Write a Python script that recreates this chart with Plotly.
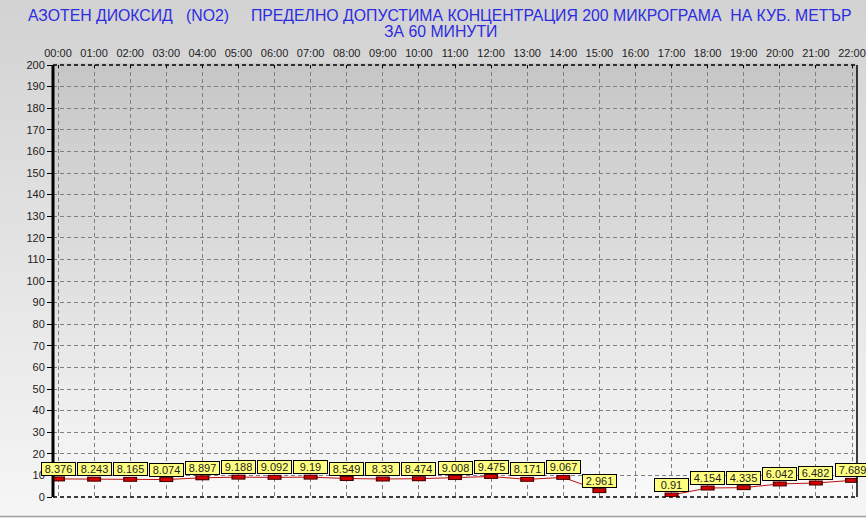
import plotly.graph_objects as go

hours = list(range(23))
hour_labels = [f"{h:02d}:00" for h in hours]
values = [8.376, 8.243, 8.165, 8.074, 8.897, 9.188, 9.092, 9.19, 8.549, 8.33,
          8.474, 9.008, 9.475, 8.171, 9.067, 2.961, None, 0.91, 4.154, 4.335,
          6.042, 6.482, 7.689]
label_texts = ["8.376", "8.243", "8.165", "8.074", "8.897", "9.188", "9.092", "9.19",
               "8.549", "8.33", "8.474", "9.008", "9.475", "8.171", "9.067", "2.961",
               None, "0.91", "4.154", "4.335", "6.042", "6.482", "7.689"]
y_ticks = list(range(0, 201, 10))

NB = "\u00a0"
title_line1 = ("АЗОТЕН ДИОКСИД" + NB * 3 + "(NO2)" + NB * 5 +
               "ПРЕДЕЛНО ДОПУСТИМА КОНЦЕНТРАЦИЯ 200 МИКРОГРАМА" + NB * 2 + "НА КУБ. МЕТЪР")
title_line2 = "ЗА 60 МИНУТИ"

FONT = "Arial, 'Liberation Sans', sans-serif"

W, H = 866, 518
ML, MR, MT, MB = 53, 9, 65, 21
PW, PH = W - ML - MR, H - MT - MB


def px_to_paper_x(px):
    return (px - ML) / PW


def px_to_paper_y(py):
    return (H - MB - py) / PH


fig = go.Figure()

# connecting line
fig.add_trace(go.Scatter(x=hours, y=values, mode="lines",
                         line=dict(color="#c01010", width=1),
                         connectgaps=False, hoverinfo="skip", showlegend=False))
# marker outline
fig.add_trace(go.Scatter(x=hours, y=values, mode="markers",
                         marker=dict(symbol="line-ew", size=10,
                                     line=dict(color="#4a0000", width=5)),
                         hoverinfo="skip", showlegend=False))
# marker fill
fig.add_trace(go.Scatter(x=hours, y=values, mode="markers",
                         marker=dict(symbol="line-ew", size=8,
                                     line=dict(color="#d40000", width=3)),
                         hoverinfo="skip", showlegend=False))

annotations = []
for h, v, t in zip(hours, values, label_texts):
    if v is None:
        continue
    annotations.append(dict(
        x=h, y=v, xref="x", yref="y", text=t, showarrow=False,
        xanchor="center", yanchor="bottom", yshift=3,
        font=dict(family=FONT, size=11, color="#222222"),
        bgcolor="#ffff80", bordercolor="#000000", borderwidth=1, borderpad=0,
        width=33, height=12, align="center"))

# title lines
annotations.append(dict(text=title_line1, xref="paper", yref="paper",
                        x=px_to_paper_x(440), y=px_to_paper_y(15.5),
                        xanchor="center", yanchor="middle", showarrow=False,
                        font=dict(family=FONT, size=15.8, color="#2c2ce0")))
annotations.append(dict(text=title_line2, xref="paper", yref="paper",
                        x=px_to_paper_x(440), y=px_to_paper_y(31.5),
                        xanchor="center", yanchor="middle", showarrow=False,
                        font=dict(family=FONT, size=15.8, color="#2c2ce0")))


def grad_rects(x0, x1, y0, y1, c_top, c_bot, n):
    out = []
    for i in range(n):
        f = (i + 0.5) / n
        c = tuple(int(round(c_bot[k] + (c_top[k] - c_bot[k]) * f)) for k in range(3))
        ya = y0 + (y1 - y0) * i / n
        yb = y0 + (y1 - y0) * (i + 1) / n
        out.append(dict(type="rect", xref="paper", yref="paper",
                        x0=x0, x1=x1, y0=ya, y1=yb + (y1 - y0) * 0.004,
                        fillcolor="rgb(%d,%d,%d)" % c, line=dict(width=0),
                        layer="below"))
    return out


shapes = []
# whole-page gradient
shapes += grad_rects(px_to_paper_x(0), px_to_paper_x(W), px_to_paper_y(H), px_to_paper_y(0),
                     (0xd2, 0xd2, 0xd2), (0xf6, 0xf6, 0xf6), 60)
# plot-area gradient
shapes += grad_rects(0, 1, 0, 1, (0xc6, 0xc6, 0xc6), (0xf9, 0xf9, 0xf9), 60)
# borders
shapes += [
    dict(type="line", xref="paper", yref="paper", x0=0, x1=1, y0=1, y1=1,
         line=dict(color="black", width=1.5, dash="4px,3px"), layer="above"),
    dict(type="line", xref="paper", yref="paper", x0=0, x1=1, y0=0, y1=0,
         line=dict(color="black", width=1.5, dash="4px,3px"), layer="above"),
    dict(type="line", xref="paper", yref="paper", x0=0, x1=0, y0=0, y1=1,
         line=dict(color="black", width=3), layer="above"),
    dict(type="line", xref="paper", yref="paper", x0=1, x1=1, y0=0, y1=1,
         line=dict(color="black", width=1.5), layer="above"),
    dict(type="line", xref="paper", yref="paper", x0=px_to_paper_x(0), x1=px_to_paper_x(W),
         y0=px_to_paper_y(516.5), y1=px_to_paper_y(516.5),
         line=dict(color="#a0a0a0", width=1.5), layer="above"),
]

fig.update_layout(
    width=W, height=H,
    margin=dict(l=ML, r=MR, t=MT, b=MB, pad=0, autoexpand=False),
    paper_bgcolor="#d4d4d4",
    plot_bgcolor="rgba(0,0,0,0)",
    font=dict(family=FONT, size=11, color="#222222"),
    showlegend=False,
    annotations=annotations,
    shapes=shapes,
    hovermode=False,
)

fig.update_xaxes(
    range=[-5 / 36.09, 22 + 5 / 36.09], side="top",
    tickmode="array", tickvals=hours, ticktext=hour_labels,
    showgrid=True, gridcolor="#808080", griddash="4px,3px", gridwidth=1,
    ticks="inside", ticklen=3, tickcolor="black",
    ticklabelstandoff=5,
    zeroline=False, showline=False,
    tickfont=dict(family=FONT, size=11, color="#222222"),
)
fig.update_yaxes(
    range=[0, 200], tickmode="array", tickvals=y_ticks,
    showgrid=True, gridcolor="#808080", griddash="4px,3px", gridwidth=1,
    ticks="outside", ticklen=5, tickcolor="black",
    zeroline=False, showline=False,
    tickfont=dict(family=FONT, size=11, color="#222222"),
)

fig.write_html("out.html", config={"displayModeBar": False},
               post_script="document.body.style.margin='0';document.body.style.overflow='hidden';")
